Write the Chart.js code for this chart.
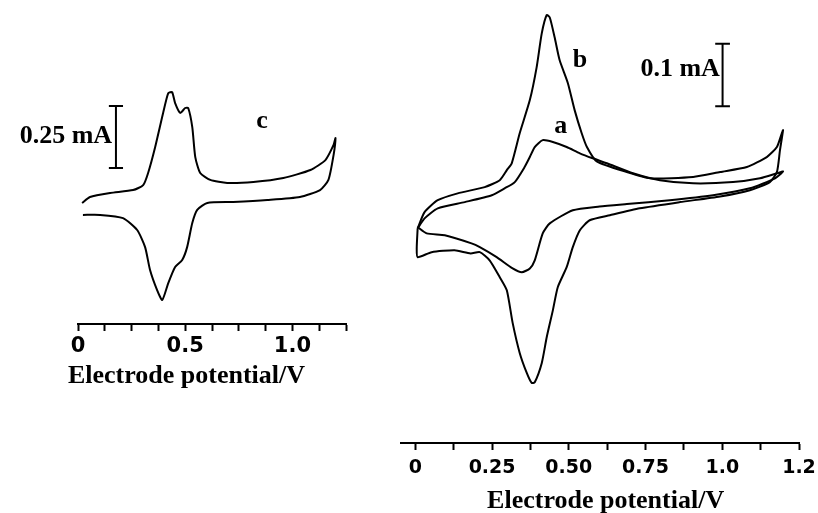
<!DOCTYPE html>
<html>
<head>
<meta charset="utf-8">
<script src="https://cdn.jsdelivr.net/npm/chart.js@4.4.0/dist/chart.umd.min.js"></script>
<style>
  html, body { margin: 0; padding: 0; background: #fff; overflow: hidden; }
  body { width: 818px; height: 513px; position: relative; }
  canvas { position: absolute; top: 0; }
  #leftChart { left: 0; }
  #rightChart { left: 400px; }
</style>
</head>
<body>
<canvas id="leftChart" width="400" height="390"></canvas>
<canvas id="rightChart" width="418" height="518"></canvas>
<script>
// ===== DATA =====
// Potentials in V, currents in mA (zero is arbitrary).

// Left panel, curve c: anodic sweep then cathodic return
const cPotential = [0.019, 0.056, 0.150, 0.257, 0.304, 0.327, 0.360, 0.397, 0.421, 0.439,
  0.453, 0.477, 0.500, 0.514, 0.533, 0.547, 0.570, 0.617, 0.696, 0.818,
  0.958, 1.084, 1.154, 1.192, 1.201,
  1.192, 1.168, 1.129, 1.035, 0.883, 0.724, 0.603, 0.556, 0.533, 0.509,
  0.486, 0.453, 0.421, 0.393, 0.369, 0.336, 0.313, 0.276, 0.210, 0.103, 0.023];
const cCurrent = [-0.012, 0.012, 0.028, 0.040, 0.060, 0.109, 0.214, 0.351, 0.431, 0.435,
  0.391, 0.351, 0.371, 0.371, 0.294, 0.173, 0.109, 0.081, 0.069, 0.073,
  0.089, 0.121, 0.161, 0.222, 0.250,
  0.181, 0.081, 0.040, 0.012, 0.000, -0.008, -0.012, -0.040, -0.093, -0.190,
  -0.242, -0.270, -0.335, -0.403, -0.363, -0.282, -0.190, -0.121, -0.073, -0.060, -0.060];

// Right panel, curve b (large peaks)
const bPotential = [0.0075, 0.030, 0.073, 0.138, 0.226, 0.275, 0.298, 0.314, 0.340, 0.373,
  0.395, 0.412, 0.428, 0.438, 0.454, 0.470, 0.497, 0.519, 0.542, 0.559,
  0.591, 0.689, 0.764, 0.905, 0.993, 1.080, 1.145, 1.178, 1.194, 1.198,
  1.188, 1.178, 1.155, 1.090, 0.993, 0.862, 0.731, 0.634, 0.568, 0.536,
  0.513, 0.493, 0.464, 0.448, 0.428, 0.412, 0.389, 0.379, 0.363, 0.340,
  0.317, 0.298, 0.275, 0.242, 0.210, 0.180, 0.128, 0.053, 0.0075, 0.0045, 0.0075];
const bCurrent = [-0.037, -0.011, 0.008, 0.019, 0.029, 0.040, 0.056, 0.067, 0.115, 0.168,
  0.220, 0.275, 0.304, 0.300, 0.268, 0.232, 0.195, 0.152, 0.115, 0.093,
  0.070, 0.053, 0.043, 0.045, 0.053, 0.061, 0.077, 0.093, 0.115, 0.120,
  0.088, 0.053, 0.037, 0.024, 0.014, 0.005, -0.005, -0.016, -0.024, -0.040,
  -0.067, -0.099, -0.131, -0.168, -0.211, -0.252, -0.283, -0.284, -0.268, -0.236,
  -0.188, -0.136, -0.115, -0.088, -0.075, -0.077, -0.072, -0.075, -0.083, -0.069, -0.037];

// Right panel, curve a (small peaks)
const aPotential = [0.0075, 0.030, 0.073, 0.161, 0.249, 0.291, 0.324, 0.356, 0.373, 0.389,
  0.415, 0.448, 0.493, 0.536, 0.578, 0.624, 0.709, 0.797, 0.905, 1.035,
  1.123, 1.178, 1.198,
  1.172, 1.090, 0.970, 0.829, 0.689, 0.600, 0.513, 0.438, 0.415, 0.389,
  0.373, 0.347, 0.317, 0.265, 0.210, 0.183, 0.096, 0.037, 0.0075];
const aCurrent = [-0.037, -0.021, -0.005, 0.005, 0.016, 0.027, 0.037, 0.061, 0.077, 0.093,
  0.104, 0.101, 0.093, 0.083, 0.075, 0.067, 0.051, 0.040, 0.035, 0.037,
  0.043, 0.051, 0.054,
  0.043, 0.027, 0.016, 0.008, 0.002, -0.002, -0.008, -0.029, -0.045, -0.088,
  -0.101, -0.107, -0.101, -0.083, -0.067, -0.061, -0.048, -0.045, -0.035];

// Scale bars: [potential, bottom current, top current]
const leftScaleBar = [0.177, 0.129, 0.379];   // 0.25 mA
const rightScaleBar = [1.001, 0.158, 0.258];  // 0.1 mA

// Axis ticks
const leftTicks = [0, 0.125, 0.25, 0.375, 0.5, 0.625, 0.75, 0.875, 1.0, 1.125, 1.25];
const leftTickLabels = ['0', '', '', '', '0.5', '', '', '', '1.0', '', ''];
const rightTicks = [0, 0.125, 0.25, 0.375, 0.5, 0.625, 0.75, 0.875, 1.0, 1.125, 1.25];
const rightTickLabels = ['0', '', '0.25', '', '0.50', '', '0.75', '', '1.0', '', '1.2'];

// ===== HELPERS =====
const toPoints = (xs, ys) => xs.map((x, i) => ({ x, y: ys[i] }));

// bar with end caps, drawn as one polyline
function scaleBarPoints(bar, cap) {
  const [v, lo, hi] = bar;
  return [
    { x: v - cap, y: hi }, { x: v + cap, y: hi }, { x: v, y: hi },
    { x: v, y: lo }, { x: v - cap, y: lo }, { x: v + cap, y: lo }
  ];
}

const curve = (data, tension = 0.2) => ({
  data,
  showLine: true,
  borderColor: '#000',
  borderWidth: 2,
  pointRadius: 0,
  tension,
  fill: false,
});

// text labels anchored in data units, axis title anchored under the axis
const notesPlugin = {
  id: 'notes',
  afterDatasetsDraw(chart, args, opts) {
    const { ctx, chartArea } = chart;
    const xs = chart.scales.x, ys = chart.scales.y;
    ctx.save();
    ctx.fillStyle = '#000';
    ctx.textBaseline = 'alphabetic';
    (opts.items || []).forEach(n => {
      ctx.font = n.font;
      ctx.textAlign = n.align || 'center';
      ctx.fillText(n.text, xs.getPixelForValue(n.v), ys.getPixelForValue(n.i));
    });
    if (opts.title) {
      ctx.font = 'bold 26px "Liberation Serif", "Times New Roman", serif';
      ctx.textAlign = 'center';
      ctx.fillText(opts.title.text, xs.getPixelForValue(opts.title.v), chartArea.bottom + opts.title.offset);
    }
    ctx.restore();
  }
};

function makeChart(id, cfg) {
  return new Chart(document.getElementById(id), {
    type: 'scatter',
    data: { datasets: cfg.datasets },
    options: {
      responsive: false,
      devicePixelRatio: 1,
      animation: false,
      layout: { padding: cfg.padding },
      plugins: {
        legend: { display: false },
        tooltip: { enabled: false },
        notes: cfg.notes
      },
      scales: {
        x: {
          type: 'linear',
          position: 'bottom',
          min: cfg.xMin,
          max: cfg.xMax,
          afterBuildTicks: s => { s.ticks = cfg.ticks.map(v => ({ value: v })); },
          afterFit: s => { s.paddingLeft = 0; s.paddingRight = 0; s.height = cfg.axisHeight; },
          ticks: {
            autoSkip: false,
            maxRotation: 0,
            padding: cfg.tickPadding,
            color: '#000',
            font: { family: '"DejaVu Sans", sans-serif', weight: 'bold', size: cfg.tickSize },
            callback: (v, i) => cfg.tickLabels[i]
          },
          grid: { drawOnChartArea: false, drawTicks: true, tickLength: 7, tickWidth: 2, tickColor: '#000', color: '#000' },
          border: { display: true, color: '#000', width: 2 }
        },
        y: { display: false, min: cfg.yMin, max: cfg.yMax }
      }
    },
    plugins: [notesPlugin]
  });
}

const noteFont = 'bold 26px "Liberation Serif", "Times New Roman", serif';

// ===== LEFT PANEL (curve c) =====
makeChart('leftChart', {
  datasets: [
    curve(toPoints(cPotential, cCurrent)),
    curve(scaleBarPoints(leftScaleBar, 0.033), 0)
  ],
  padding: { left: 78, right: 54, top: 76, bottom: 0 },
  xMin: 0, xMax: 1.25, yMin: -0.5, yMax: 0.5,
  ticks: leftTicks, tickLabels: leftTickLabels,
  tickSize: 21, tickPadding: 3, axisHeight: 66,
  notes: {
    items: [
      { text: '0.25 mA', v: 0.159, i: 0.229, align: 'right', font: noteFont },
      { text: 'c', v: 0.858, i: 0.289, font: noteFont }
    ],
    title: { text: 'Electrode potential/V', v: 0.506, offset: 59 }
  }
});

// ===== RIGHT PANEL (curves a and b) =====
makeChart('rightChart', {
  datasets: [
    curve(toPoints(bPotential, bCurrent)),
    curve(toPoints(aPotential, aCurrent)),
    curve(scaleBarPoints(rightScaleBar, 0.024), 0)
  ],
  padding: { left: 0, right: 19, top: 5, bottom: 0 },
  xMin: -0.05, xMax: 1.25, yMin: -0.38, yMax: 0.32,
  ticks: rightTicks, tickLabels: rightTickLabels,
  tickSize: 19, tickPadding: 7, axisHeight: 75,
  notes: {
    items: [
      { text: '0.1 mA', v: 0.992, i: 0.206, align: 'right', font: noteFont },
      { text: 'b', v: 0.536, i: 0.221, font: noteFont },
      { text: 'a', v: 0.474, i: 0.115, font: noteFont }
    ],
    title: { text: 'Electrode potential/V', v: 0.62, offset: 65 }
  }
});
</script>
</body>
</html>
